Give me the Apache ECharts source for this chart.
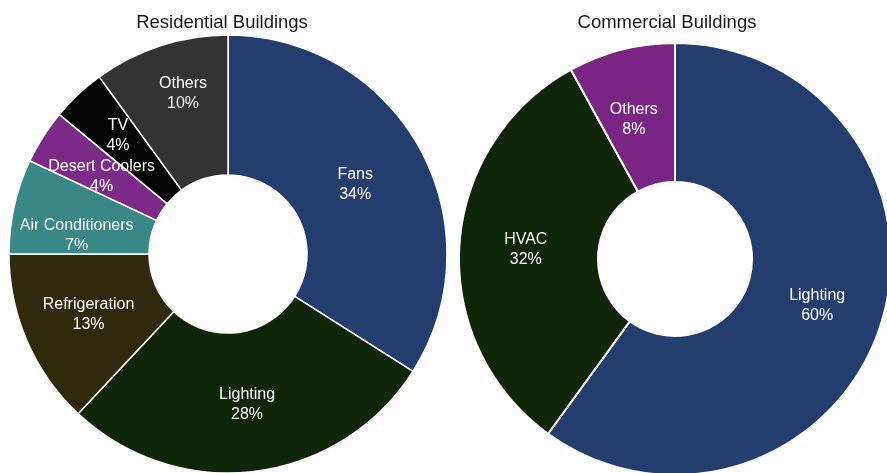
<!DOCTYPE html>
<html>
<head>
<meta charset="utf-8">
<script src="https://cdn.jsdelivr.net/npm/echarts@6/dist/echarts.min.js"></script>
<style>
  html, body { margin: 0; padding: 0; background: #ffffff; }
  #chart { width: 887px; height: 473px; }
</style>
</head>
<body>
<div id="chart"></div>
<script>
// Energy use by end use, share of total (%)
const residentialCategories = ['Fans', 'Lighting', 'Refrigeration', 'Air Conditioners', 'Desert Coolers', 'TV', 'Others'];
const residentialValues = [34, 28, 13, 7, 4, 4, 10];
const residentialColors = ['#223d6e', '#0f2708', '#2f2a0b', '#3a8787', '#7b2a87', '#050505', '#333333'];

const commercialCategories = ['Lighting', 'HVAC', 'Others'];
const commercialValues = [60, 32, 8];
const commercialColors = ['#223d6e', '#0f2708', '#7a2484'];

const titles = ['Residential Buildings', 'Commercial Buildings'];

// small nudges for the narrow slices' labels
const residentialOffsets = { 'Fans': [-6, 4], 'TV': [-6, -8], 'Others': [2, -16], 'Air Conditioners': [-3, 15], 'Desert Coolers': [2, 4] };
const commercialOffsets = { 'Others': [-4, 5] };

function buildData(cats, vals, colors, offsets) {
  return cats.map((name, i) => {
    const item = { name: name, value: vals[i], itemStyle: { color: colors[i] } };
    if (offsets && offsets[name]) item.label = { offset: offsets[name] };
    return item;
  });
}

const FONT = 'Liberation Sans, Arial, sans-serif';

const labelStyle = {
  show: true,
  position: 'inside',
  formatter: '{b}\n{c}%',
  color: '#ffffff',
  fontFamily: FONT,
  fontSize: 16,
  fontWeight: 'normal',
  lineHeight: 20,
  align: 'center'
};

const titleStyle = { fontFamily: FONT, fontSize: 18.5, fontWeight: 'normal', color: '#1a1a1a' };

const chart = echarts.init(document.getElementById('chart'), null, { renderer: 'canvas' });
chart.setOption({
  backgroundColor: '#ffffff',
  animation: false,
  title: [
    { text: titles[0], left: 217, top: 8, textAlign: 'center', textStyle: titleStyle },
    { text: titles[1], left: 662, top: 8, textAlign: 'center', textStyle: titleStyle }
  ],
  series: [
    {
      type: 'pie',
      center: [228, 254],
      radius: [79, 219],
      startAngle: 90,
      clockwise: true,
      avoidLabelOverlap: false,
      labelLayout: { hideOverlap: false },
      itemStyle: { borderColor: '#ffffff', borderWidth: 1.5 },
      label: labelStyle,
      labelLine: { show: false },
      emphasis: { disabled: true },
      data: buildData(residentialCategories, residentialValues, residentialColors, residentialOffsets)
    },
    {
      type: 'pie',
      center: [675, 259],
      radius: [77, 216],
      startAngle: 90,
      clockwise: true,
      avoidLabelOverlap: false,
      labelLayout: { hideOverlap: false },
      itemStyle: { borderColor: '#ffffff', borderWidth: 2 },
      label: labelStyle,
      labelLine: { show: false },
      emphasis: { disabled: true },
      data: buildData(commercialCategories, commercialValues, commercialColors, commercialOffsets)
    }
  ]
});
</script>
</body>
</html>
